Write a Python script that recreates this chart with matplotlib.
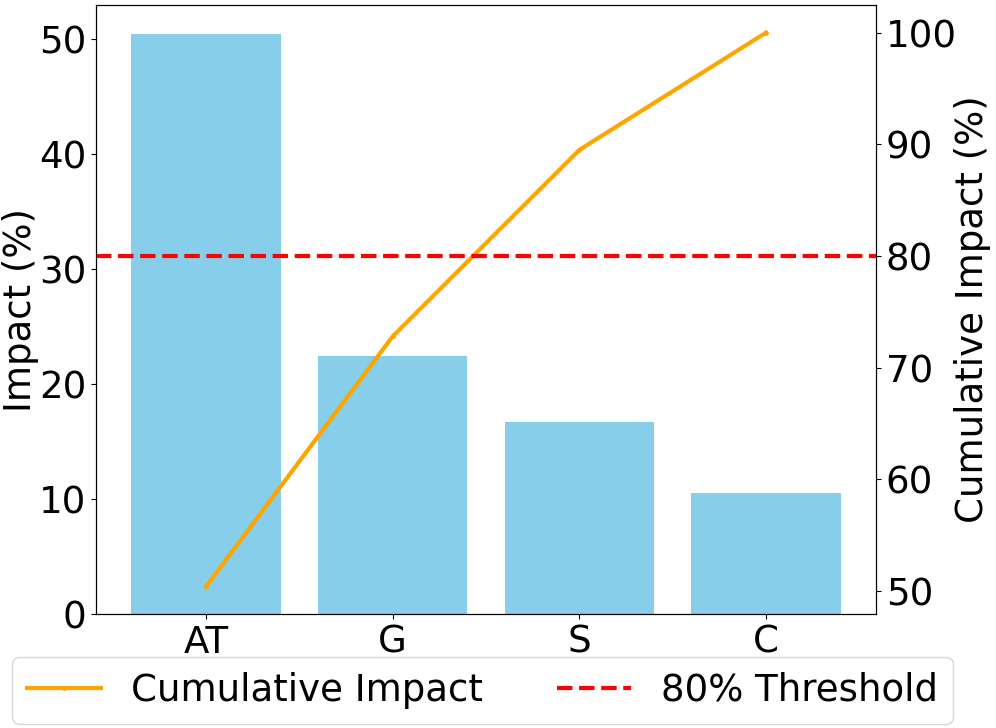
import numpy as np
import matplotlib.pyplot as plt

# impact per category, in percent
categories = ["AT", "G", "S", "C"]
impact = [50.4, 22.4, 16.7, 10.5]
cumulative = [50.4, 72.8, 89.5, 100.0]
threshold = 80

fs = 26.7

fig = plt.figure(figsize=(9.96, 7.28), dpi=100)
ax = fig.add_axes([0.0964, 0.1566, 0.7831, 0.8365])

x = np.arange(len(categories))
ax.bar(x, impact, color="skyblue", width=0.8)
ax.set_xticks(x)
ax.set_xticklabels(categories, fontsize=fs)
ax.set_ylabel("Impact (%)", fontsize=fs, labelpad=0)
ax.tick_params(axis="y", labelsize=fs)

ax2 = ax.twinx()
l1, = ax2.plot(x, cumulative, color="orange", marker=".", markersize=5,
               linewidth=3, label="Cumulative Impact")
l2 = ax2.axhline(threshold, color="red", linestyle="--", linewidth=3,
                 label="80% Threshold")
ax2.set_ylabel("Cumulative Impact (%)", fontsize=fs, labelpad=-2)
ax2.tick_params(axis="y", labelsize=fs)

ax.legend(handles=[l1, l2], loc="upper center", bbox_to_anchor=(0.4955, -0.04),
          ncol=2, fontsize=fs)

fig.savefig("out.png", dpi=100)
